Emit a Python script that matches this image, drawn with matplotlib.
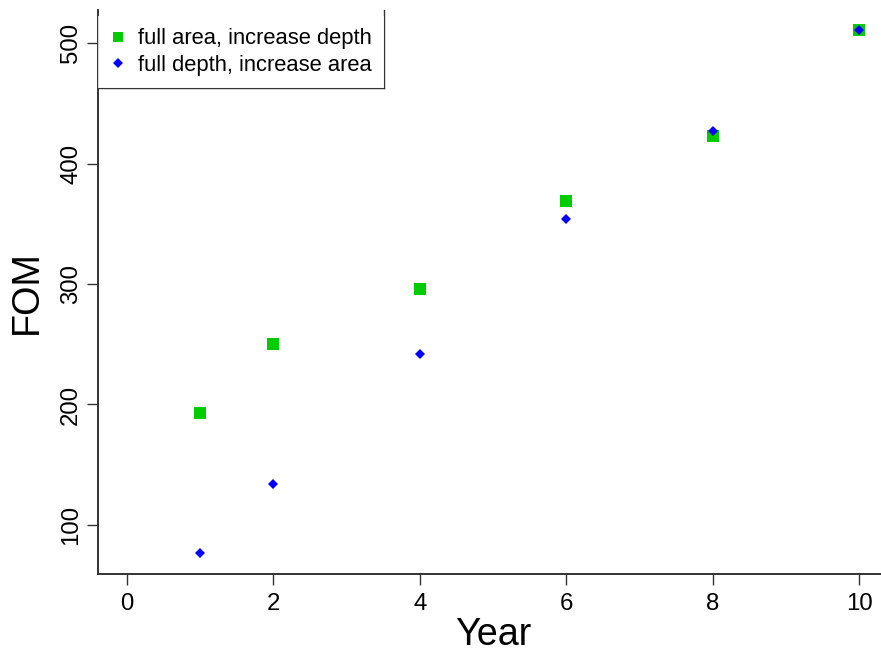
import matplotlib
matplotlib.use("Agg")
import matplotlib.pyplot as plt
from matplotlib.lines import Line2D

plt.rcParams["font.family"] = ["Liberation Sans", "DejaVu Sans"]

# Figure of merit per year for the two staging strategies
years = [1, 2, 4, 6, 8, 10]
fom_full_area = [193, 250, 296, 369, 423, 511]
fom_full_depth = [77, 134, 242, 354, 427, 511]
series_labels = ["full area, increase depth", "full depth, increase area"]
x_ticks = [0, 2, 4, 6, 8, 10]
y_ticks = [100, 200, 300, 400, 500]

W, H = 881, 653
fig = plt.figure(figsize=(W / 100, H / 100), dpi=100)
ax = fig.add_axes([98 / W, (H - 574) / H, 1 - 98 / W, (574 - 10) / H])

green = "#00CD00"
blue = "#0000FF"
ax.plot(years, fom_full_area, linestyle="none", marker="s", markersize=8,
        color=green, markeredgewidth=0)
ax.plot(years, fom_full_depth, linestyle="none", marker="D", markersize=5.4,
        color=blue, markeredgewidth=0)

ax.set_xlim(-0.396, 10.30)
ax.set_ylim(59.3, 527.4)
ax.set_xticks(x_ticks)
ax.set_yticks(y_ticks)

axis_color = "#333333"
for side in ("top", "right"):
    ax.spines[side].set_visible(False)
for side in ("left", "bottom"):
    ax.spines[side].set_linewidth(1.4)
    ax.spines[side].set_color(axis_color)

ax.tick_params(axis="both", direction="out", length=8, width=1.0,
               color=axis_color, labelsize=17.3, labelcolor="black")
ax.tick_params(axis="x", pad=5.5)
ax.tick_params(axis="y", pad=3.5)
for lab in ax.get_yticklabels():
    lab.set_rotation(90)
    lab.set_va("center")
    lab.set_ha("right")

ax.set_xlabel("Year", fontsize=27.2, va="top")
ax.xaxis.set_label_coords(0.505, -0.0765)
ax.set_ylabel("FOM", fontsize=27.2)
ax.yaxis.set_label_coords(-0.068, 0.5)

handles = [
    Line2D([], [], linestyle="none", marker="s", markersize=7, color=green,
           markeredgewidth=0),
    Line2D([], [], linestyle="none", marker="D", markersize=4.6, color=blue,
           markeredgewidth=0),
]
leg = ax.legend(handles, series_labels, loc="lower left",
                bbox_to_anchor=(0, (574 - 88) / 564), borderaxespad=0,
                fontsize=15.8, frameon=True, fancybox=False, borderpad=0.55,
                handlelength=0.73, handletextpad=0.55, labelspacing=0.25)
leg.get_frame().set_edgecolor("none")
leg.get_frame().set_facecolor("white")

# Legend box: only the right and bottom edges show below the axes top
fig.canvas.draw()
bb = leg.get_window_extent().transformed(ax.transAxes.inverted())
ax.plot([bb.x1, bb.x1], [bb.y0, 1.0], transform=ax.transAxes, clip_on=False,
        color=axis_color, linewidth=1.0, zorder=5)
ax.plot([0, bb.x1], [bb.y0, bb.y0], transform=ax.transAxes, clip_on=False,
        color=axis_color, linewidth=1.0, zorder=5)

fig.savefig("out.png", dpi=100)
